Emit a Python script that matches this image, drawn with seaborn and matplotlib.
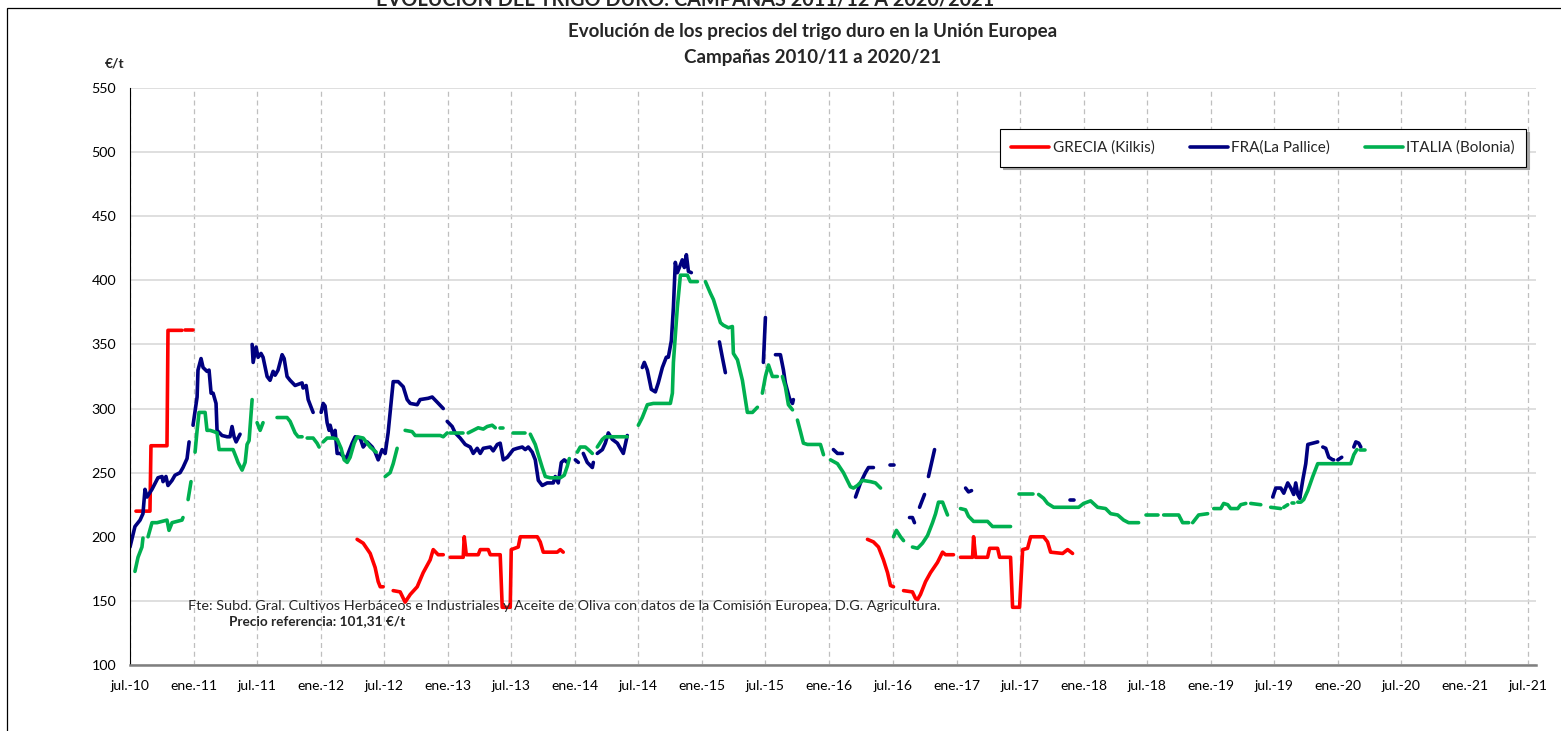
import numpy as np
import pandas as pd
import matplotlib
matplotlib.use("Agg")
import matplotlib.pyplot as plt
import seaborn as sns
from matplotlib.lines import Line2D
from matplotlib.patches import Rectangle

# ---- data: (decimal year, €/t); None marks a gap in the series ----
grecia = [
    (2010.547, 220), (2010.657, 220), (2010.665, 271), (2010.791, 271), (2010.799, 361), (2010.909, 361), None,
    (2010.933, 361), (2010.996, 361), None,
    (2012.287, 198), (2012.335, 195), (2012.390, 187), (2012.429, 176), (2012.453, 165), (2012.469, 161), (2012.492, 161), None,
    (2012.571, 158), (2012.626, 157), (2012.665, 149), (2012.705, 155), (2012.760, 161), (2012.807, 172), (2012.862, 182),
    (2012.886, 190), (2012.925, 186), (2012.965, 186), None,
    (2013.020, 184), (2013.098, 184), (2013.122, 184), (2013.130, 200), (2013.146, 186), (2013.240, 186), (2013.256, 190),
    (2013.319, 190), (2013.335, 186), (2013.413, 186), (2013.429, 145), (2013.492, 145), (2013.500, 190), (2013.555, 192),
    (2013.571, 200), (2013.705, 200), (2013.728, 196), (2013.752, 188), (2013.862, 188), (2013.886, 190), (2013.909, 188), None,
    (2016.303, 198), (2016.350, 196), (2016.390, 192), (2016.429, 182), (2016.461, 172), (2016.484, 162), (2016.508, 161), None,
    (2016.587, 158), (2016.657, 157), (2016.681, 152), (2016.697, 151), (2016.720, 155), (2016.760, 165), (2016.799, 172),
    (2016.854, 180), (2016.894, 188), (2016.917, 186), (2016.980, 186), None,
    (2017.035, 184), (2017.098, 184), (2017.130, 184), (2017.138, 200), (2017.154, 184), (2017.248, 184), (2017.264, 191),
    (2017.327, 191), (2017.343, 184), (2017.429, 184), (2017.445, 145), (2017.500, 145), (2017.524, 190), (2017.563, 191),
    (2017.587, 200), (2017.689, 200), (2017.720, 196), (2017.744, 188), (2017.839, 187), (2017.878, 190), (2017.917, 187),
]

fra = [
    (2010.500, 192), (2010.539, 208), (2010.579, 213), (2010.602, 218), (2010.618, 237), (2010.634, 231), (2010.673, 237),
    (2010.720, 246), (2010.752, 247), (2010.760, 243), (2010.783, 247), (2010.799, 240), (2010.831, 244), (2010.854, 248),
    (2010.894, 250), (2010.917, 254), (2010.949, 261), (2010.965, 274), None,
    (2010.996, 287), (2011.028, 309), (2011.035, 330), (2011.059, 339), (2011.075, 332), (2011.106, 329), (2011.122, 330),
    (2011.138, 312), (2011.154, 312), (2011.177, 304), (2011.185, 283), (2011.224, 279), (2011.264, 278), (2011.287, 278),
    (2011.303, 286), (2011.319, 278), (2011.335, 274), (2011.366, 280), None,
    (2011.461, 350), (2011.469, 336), (2011.492, 348), (2011.508, 340), (2011.531, 343), (2011.547, 340), (2011.579, 325),
    (2011.602, 322), (2011.626, 329), (2011.642, 326), (2011.665, 330), (2011.697, 342), (2011.713, 339), (2011.736, 325),
    (2011.760, 322), (2011.799, 318), (2011.854, 320), (2011.862, 316), (2011.886, 318), (2011.902, 307), (2011.933, 299),
    (2011.941, 297), None,
    (2012.004, 297), (2012.020, 304), (2012.035, 302), (2012.051, 289), (2012.067, 283), (2012.075, 287), (2012.098, 278),
    (2012.114, 283), (2012.130, 265), (2012.154, 265), (2012.201, 261), (2012.248, 273), (2012.272, 278), (2012.311, 277),
    (2012.335, 270), (2012.366, 274), (2012.406, 270), (2012.429, 266), (2012.453, 260), (2012.484, 268), (2012.508, 265),
    (2012.531, 281), (2012.571, 321), (2012.610, 321), (2012.650, 317), (2012.681, 307), (2012.705, 304), (2012.760, 303),
    (2012.783, 307), (2012.846, 308), (2012.878, 309), (2012.917, 305), (2012.965, 300), None,
    (2012.996, 290), (2013.035, 286), (2013.059, 281), (2013.098, 277), (2013.138, 272), (2013.177, 270), (2013.201, 265),
    (2013.232, 269), (2013.256, 265), (2013.280, 269), (2013.335, 270), (2013.358, 267), (2013.390, 272), (2013.413, 273),
    (2013.437, 260), (2013.469, 262), (2013.492, 265), (2013.516, 268), (2013.547, 269), (2013.587, 270), (2013.610, 268),
    (2013.634, 270), (2013.665, 266), (2013.689, 260), (2013.713, 244), (2013.744, 240), (2013.783, 242), (2013.831, 242),
    (2013.846, 247), (2013.870, 242), (2013.894, 258), (2013.917, 260), (2013.941, 258), None,
    (2014.004, 260), (2014.028, 258), None,
    (2014.067, 265), (2014.098, 258), (2014.138, 254), (2014.146, 258), None,
    (2014.177, 265), (2014.217, 268), (2014.240, 273), (2014.264, 281), (2014.295, 276), (2014.335, 273), (2014.358, 269),
    (2014.382, 265), (2014.413, 279), None,
    (2014.531, 332), (2014.547, 336), (2014.571, 330), (2014.602, 315), (2014.634, 313), (2014.657, 320), (2014.689, 332),
    (2014.720, 340), (2014.736, 340), (2014.760, 353), (2014.776, 379), (2014.791, 414), (2014.807, 406), (2014.823, 410),
    (2014.846, 416), (2014.862, 410), (2014.878, 420), (2014.894, 407), (2014.917, 406), None,
    (2015.138, 352), (2015.161, 340), (2015.185, 328), None,
    (2015.484, 336), (2015.500, 371), None,
    (2015.579, 342), (2015.618, 342), (2015.642, 330), (2015.657, 320), (2015.673, 314), (2015.689, 308), (2015.713, 304),
    (2015.720, 307), None,
    (2016.035, 268), (2016.067, 265), (2016.106, 265), None,
    (2016.209, 231), (2016.248, 242), (2016.287, 250), (2016.311, 254), (2016.350, 254), None,
    (2016.484, 256), (2016.508, 256), None,
    (2016.634, 215), (2016.657, 215), (2016.673, 211), None,
    (2016.713, 223), (2016.752, 233), None,
    (2016.783, 247), (2016.831, 268), None,
    (2017.075, 238), (2017.098, 235), (2017.122, 236), None,
    (2017.894, 229), (2017.925, 229), None,
    (2019.492, 231), (2019.516, 238), (2019.555, 238), (2019.579, 234), (2019.610, 242), (2019.634, 238), (2019.657, 233),
    (2019.673, 242), (2019.689, 233), (2019.705, 230), (2019.728, 244), (2019.752, 257), (2019.768, 272), (2019.807, 273),
    (2019.846, 274), None,
    (2019.886, 270), (2019.909, 269), (2019.933, 262), (2019.965, 260), (2019.972, 260), None,
    (2020.004, 260), (2020.035, 262), None,
    (2020.130, 270), (2020.146, 274), (2020.169, 273), (2020.185, 270),
]

italia = [
    (2010.539, 173), (2010.563, 184), (2010.594, 192), (2010.602, 199), None,
    (2010.642, 200), (2010.673, 211), (2010.713, 211), (2010.791, 213), (2010.807, 205), (2010.831, 211), (2010.909, 213),
    (2010.917, 215), None,
    (2010.957, 229), (2010.980, 243), None,
    (2011.012, 266), (2011.028, 283), (2011.043, 297), (2011.091, 297), (2011.106, 283), (2011.130, 283), (2011.161, 282),
    (2011.185, 281), (2011.201, 268), (2011.264, 268), (2011.311, 268), (2011.335, 262), (2011.350, 258), (2011.382, 252),
    (2011.406, 258), (2011.421, 272), (2011.437, 275), (2011.461, 307), None,
    (2011.500, 289), (2011.524, 283), (2011.547, 289), None,
    (2011.657, 293), (2011.736, 293), (2011.760, 290), (2011.799, 281), (2011.823, 278), (2011.854, 278), None,
    (2011.894, 277), (2011.941, 277), (2011.972, 273), (2011.988, 270), None,
    (2012.020, 274), (2012.051, 277), (2012.098, 277), (2012.130, 276), (2012.161, 269), (2012.185, 260), (2012.209, 258),
    (2012.232, 262), (2012.264, 273), (2012.287, 278), (2012.335, 277), (2012.390, 270), (2012.437, 266), None,
    (2012.508, 247), (2012.547, 250), (2012.571, 257), (2012.602, 269), None,
    (2012.665, 283), (2012.720, 282), (2012.744, 279), (2012.783, 279), (2012.941, 279), (2012.965, 278), (2012.996, 281), None,
    (2013.020, 281), (2013.122, 281), None,
    (2013.161, 281), (2013.201, 283), (2013.240, 285), (2013.280, 284), (2013.311, 286), (2013.350, 287), (2013.374, 285), None,
    (2013.413, 285), (2013.437, 285), None,
    (2013.516, 281), (2013.610, 281), None,
    (2013.650, 280), (2013.689, 272), (2013.713, 264), (2013.744, 254), (2013.768, 247), (2013.807, 246), (2013.886, 246),
    (2013.917, 248), (2013.941, 255), (2013.957, 261), None,
    (2014.020, 266), (2014.043, 270), (2014.083, 270), (2014.106, 268), (2014.138, 265), None,
    (2014.177, 270), (2014.217, 276), (2014.240, 278), (2014.413, 278), None,
    (2014.500, 287), (2014.531, 293), (2014.571, 303), (2014.618, 304), (2014.752, 304), (2014.768, 312), (2014.776, 336),
    (2014.807, 379), (2014.831, 404), (2014.886, 404), (2014.909, 399), (2014.965, 399), None,
    (2015.028, 399), (2015.067, 390), (2015.091, 385), (2015.122, 375), (2015.146, 367), (2015.169, 365), (2015.209, 363),
    (2015.240, 364), (2015.248, 343), (2015.280, 338), (2015.319, 322), (2015.358, 297), (2015.398, 297), (2015.437, 301), None,
    (2015.476, 312), (2015.500, 325), (2015.524, 334), (2015.555, 325), (2015.594, 325), None,
    (2015.634, 325), (2015.657, 317), (2015.681, 303), (2015.713, 299), None,
    (2015.752, 291), (2015.776, 282), (2015.799, 273), (2015.831, 272), (2015.933, 272), (2015.957, 264), None,
    (2016.012, 260), (2016.067, 257), (2016.114, 250), (2016.169, 239), (2016.193, 238), (2016.224, 240), (2016.264, 244),
    (2016.327, 243), (2016.366, 242), (2016.406, 238), None,
    (2016.508, 200), (2016.531, 205), (2016.563, 200), (2016.587, 197), None,
    (2016.657, 192), (2016.697, 191), (2016.736, 195), (2016.776, 201), (2016.815, 211), (2016.839, 218), (2016.862, 227),
    (2016.894, 227), (2016.917, 221), (2016.933, 217), None,
    (2017.035, 222), (2017.075, 221), (2017.098, 216), (2017.138, 212), (2017.248, 212), (2017.287, 208), (2017.429, 208), None,
    (2017.492, 233), (2017.602, 233), None,
    (2017.650, 233), (2017.689, 230), (2017.720, 226), (2017.768, 223), (2017.965, 223), (2018.004, 226), (2018.059, 228),
    (2018.114, 223), (2018.177, 222), (2018.217, 218), (2018.272, 217), (2018.319, 213), (2018.358, 211), (2018.437, 211), None,
    (2018.492, 217), (2018.587, 217), None,
    (2018.634, 217), (2018.752, 217), (2018.783, 211), (2018.831, 211), None,
    (2018.862, 211), (2018.909, 217), (2018.980, 218), None,
    (2019.028, 222), (2019.083, 222), (2019.106, 226), (2019.138, 225), (2019.161, 222), (2019.217, 222), (2019.240, 225),
    (2019.280, 226), None,
    (2019.319, 226), (2019.398, 225), None,
    (2019.476, 223), (2019.555, 222), None,
    (2019.579, 223), (2019.610, 225), None,
    (2019.642, 226), (2019.657, 226), None,
    (2019.689, 227), (2019.713, 227), (2019.736, 229), (2019.768, 236), (2019.807, 247), (2019.846, 257), (2020.106, 257),
    (2020.130, 264), (2020.154, 268), None,
    (2020.177, 268), (2020.217, 268),
]

series_names = ["GRECIA (Kilkis)", "FRA(La Pallice)", "ITALIA (Bolonia)"]
series_colors = ["#FF0000", "#000080", "#00B050"]
month_names = {1: "ene.", 7: "jul."}
y_ticks = [100, 150, 200, 250, 300, 350, 400, 450, 500, 550]


def to_frame(points):
    rows, seg = [], 0
    for p in points:
        if p is None:
            seg += 1
            continue
        rows.append((p[0], p[1], seg))
    df = pd.DataFrame(rows, columns=["year", "price", "seg"])
    df["fecha"] = pd.Timestamp("2010-07-01") + pd.to_timedelta((df["year"] - 2010.5) * 365.25, unit="D")
    return df


sns.set_theme(style="white")
plt.rcParams["font.family"] = ["Lato", "DejaVu Sans"]

W, H = 1561, 731
fig = plt.figure(figsize=(W / 100, H / 100), dpi=100)
ax = fig.add_axes([130 / W, 1 - 665 / H, (1536 - 130) / W, (665 - 88) / H])

for pts, name, col in zip([grecia, fra, italia], series_names, series_colors):
    df = to_frame(pts)
    sns.lineplot(data=df, x="fecha", y="price", units="seg", estimator=None, sort=False,
                 color=col, lw=2.6, ax=ax, legend=False)

tick_dates = pd.date_range("2010-07-01", "2021-07-01", freq="6MS")
ax.set_xticks(tick_dates)
ax.set_xticklabels([f"{month_names[d.month]}-{d.year % 100:02d}" for d in tick_dates])
ax.set_xlim(pd.Timestamp("2010-07-01"), pd.Timestamp("2021-07-24"))
ax.set_ylim(100, 550)
ax.set_yticks(y_ticks)
ax.set_xlabel("")
ax.set_ylabel("")

ax.grid(False)
ax.yaxis.grid(True, color="#D9D9D9", lw=1.2)
ax.xaxis.grid(True, color="#BFBFBF", lw=0.9, ls=(0, (4, 3)))
ax.set_axisbelow(True)
for s in ["top", "right"]:
    ax.spines[s].set_visible(False)
ax.spines["left"].set_color("black")
ax.spines["left"].set_linewidth(0.8)
ax.spines["bottom"].set_color("#7F7F7F")
ax.spines["bottom"].set_linewidth(1.8)
ax.tick_params(axis="x", direction="out", length=4, color="#7F7F7F", width=1, labelsize=10, pad=7, labelcolor="black")
ax.tick_params(axis="y", direction="out", length=4, color="black", width=0.8, labelsize=10.3, pad=6, labelcolor="black")

# texts
fig.text(685 / W, 1 - 6 / H, "EVOLUCIÓN DEL TRIGO DURO: CAMPAÑAS 2011/12 A 2020/2021", ha="center", va="baseline",
         fontsize=14.3, fontweight="bold")
fig.text(813 / W, 1 - 32 / H, "Evolución de los precios del trigo duro en la Unión Europea", ha="center", va="center",
         fontsize=13.5, fontweight="bold")
fig.text(813 / W, 1 - 57 / H, "Campañas 2010/11 a 2020/21", ha="center", va="center", fontsize=13.5, fontweight="bold")
fig.text(115 / W, 1 - 63 / H, "€/t", ha="center", va="center", fontsize=10, fontweight="bold")
fig.text(188 / W, 1 - 606 / H,
         "Fte: Subd. Gral. Cultivos Herbáceos e Industriales y Aceite de Oliva con datos de la Comisión Europea. D.G. Agricultura.",
         ha="left", va="center", fontsize=10.4)
fig.text(229 / W, 1 - 621 / H, "Precio referencia: 101,31 €/t", ha="left", va="center", fontsize=9.8, fontweight="bold")

# outer frame
fig.add_artist(Rectangle((7 / W, -0.1), 1.5, 1.1 - 8 / H, transform=fig.transFigure, fill=False,
                         ec="black", lw=0.9, clip_on=False))

handles = [Line2D([], [], color=c, lw=2.6) for c in series_colors]
leg = fig.legend(handles, series_names, loc="center", bbox_to_anchor=(1263 / W, 1 - 148 / H), ncol=3,
                 frameon=True, fancybox=False, fontsize=11, handlelength=2.5, handletextpad=0.2,
                 columnspacing=2.3, borderpad=0.75, borderaxespad=0,
                 shadow={"ox": 2, "oy": -2, "color": "#A6A6A6", "alpha": 1})
leg.get_frame().set_edgecolor("black")
leg.get_frame().set_linewidth(0.8)
leg.get_frame().set_alpha(1)

fig.savefig("out.png", dpi=100)
